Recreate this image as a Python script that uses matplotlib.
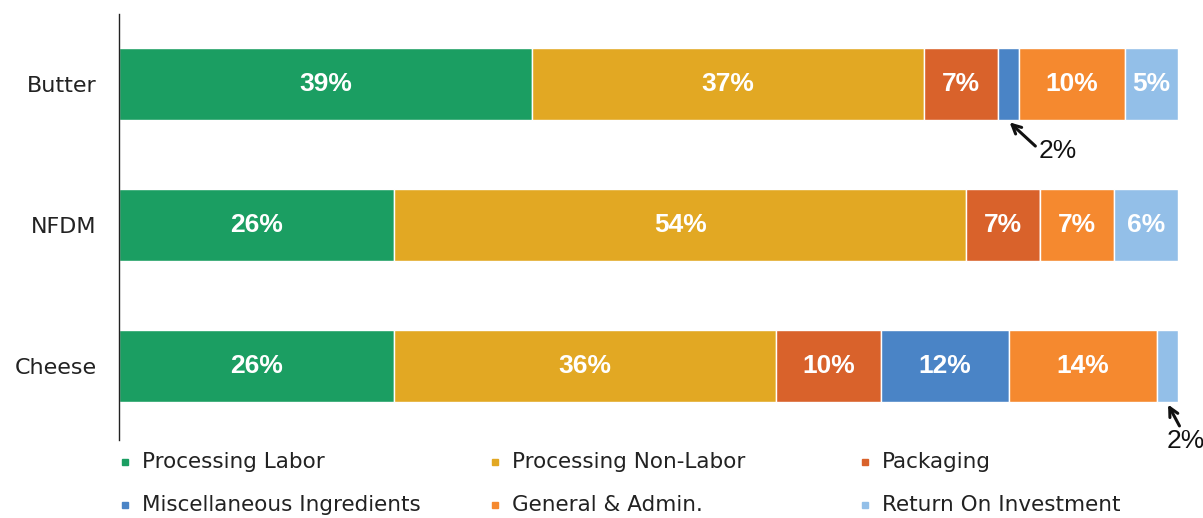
import matplotlib
matplotlib.use("Agg")
import matplotlib.pyplot as plt
from matplotlib.lines import Line2D
import numpy as np

plt.rcParams['font.family'] = ['Liberation Sans', 'DejaVu Sans']

products = ["Butter", "NFDM", "Cheese"]
series = ["Processing Labor", "Processing Non-Labor", "Packaging",
          "Miscellaneous Ingredients", "General & Admin.", "Return On Investment"]
processing_labor = [39, 26, 26]
processing_non_labor = [37, 54, 36]
packaging = [7, 7, 10]
misc_ingredients = [2, 0, 12]
general_admin = [10, 7, 14]
return_on_investment = [5, 6, 2]
values = [processing_labor, processing_non_labor, packaging,
          misc_ingredients, general_admin, return_on_investment]
colors = ["#1b9e62", "#e2a823", "#d9622b", "#4a84c6", "#f5892f", "#93bfe8"]

fig = plt.figure(figsize=(12.03, 5.18), dpi=100)
ax = fig.add_axes([119/1203, 1 - 440/518, (1178-119)/1203, (440-14)/518])

y = np.arange(len(products))
left = np.zeros(len(products))
for vals, col, name in zip(values, colors, series):
    vals = np.array(vals, dtype=float)
    ax.barh(y, vals, left=left, height=0.51, color=col, edgecolor="white",
            linewidth=1, label=name)
    for yi, (l, v) in enumerate(zip(left, vals)):
        if v >= 5:
            ax.text(l + v/2, yi, f"{int(v)}%", ha="center", va="center",
                    color="white", fontsize=19, fontweight="bold",
                    family="Liberation Sans")
    left += vals

# small-segment callouts
arrow1 = dict(arrowstyle="->", color="#111111", lw=2.2, mutation_scale=16,
              shrinkA=0, shrinkB=1, relpos=(0.0, 0.6))
arrow2 = dict(arrowstyle="->", color="#111111", lw=2.2, mutation_scale=16,
              shrinkA=0, shrinkB=1, relpos=(0.4, 0.95))
ax.annotate("2%", xy=(84, 0.265), xytext=(88.6, 0.475), textcoords="data",
            ha="center", va="center", fontsize=19, color="#111111",
            family="Liberation Sans", arrowprops=arrow1, annotation_clip=False)
ax.annotate("2%", xy=(99.0, 2.265), xytext=(100.7, 2.53), textcoords="data",
            ha="center", va="center", fontsize=19, color="#111111",
            family="Liberation Sans", arrowprops=arrow2, annotation_clip=False)

ax.set_xlim(0, 100)
ax.set_ylim(2.525, -0.497)
ax.set_yticks(y)
ax.set_yticklabels(products, fontsize=16, family="DejaVu Sans", color="#222222")
ax.tick_params(axis="y", length=0, pad=16)
ax.set_xticks([])
for s in ["top", "right", "bottom"]:
    ax.spines[s].set_visible(False)
ax.spines["left"].set_color("#222222")
ax.spines["left"].set_linewidth(1)

# legend, 3 columns x 2 rows
col_x = [125, 495, 865]
row_y = [462, 505]
for i, (name, col) in enumerate(zip(series, colors)):
    r, c = divmod(i, 3)
    fx = col_x[c] / 1203
    fy = 1 - row_y[r] / 518
    fig.add_artist(Line2D([fx], [fy], marker="s", markersize=5, color=col,
                          linestyle="none", transform=fig.transFigure))
    fig.text(fx + 17/1203, fy, name, ha="left", va="center", fontsize=15.5,
             color="#222222", family="DejaVu Sans")

fig.savefig("out.png", dpi=100)
